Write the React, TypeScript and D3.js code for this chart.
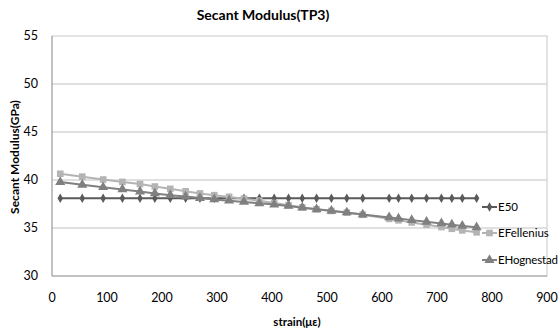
import React from "react";
import * as d3 from "d3";

const strain = [15, 55, 93, 128, 160, 187, 215, 243, 269, 295, 322, 349, 377, 404, 430, 455, 481, 508, 536, 565, 613, 630, 654, 681, 708, 727, 746, 772];
const e50 = [38.1, 38.1, 38.1, 38.1, 38.1, 38.1, 38.1, 38.1, 38.1, 38.1, 38.1, 38.1, 38.1, 38.1, 38.1, 38.1, 38.1, 38.1, 38.1, 38.1, 38.1, 38.1, 38.1, 38.1, 38.1, 38.1, 38.1, 38.1];
const eFellenius = [40.65, 40.35, 40.05, 39.8, 39.58, 39.32, 39.08, 38.82, 38.6, 38.42, 38.24, 38.05, 37.85, 37.6, 37.38, 37.15, 36.95, 36.78, 36.6, 36.38, 35.95, 35.8, 35.58, 35.35, 35.1, 34.92, 34.75, 34.55];
const eHognestad = [39.78, 39.5, 39.25, 39.02, 38.8, 38.6, 38.42, 38.27, 38.12, 37.98, 37.85, 37.72, 37.58, 37.45, 37.3, 37.12, 36.95, 36.8, 36.62, 36.4, 36.1, 35.98, 35.82, 35.65, 35.48, 35.35, 35.22, 35.07];
const xTicks = [0, 100, 200, 300, 400, 500, 600, 700, 800, 900];
const yTicks = [30, 35, 40, 45, 50, 55];
const seriesNames = ["E50", "EFellenius", "EHognestad"];

const W = 559, H = 334;
const L = 52, R = 547, T = 36, B = 276;
const font = "Lato, 'Open Sans', sans-serif";

const colors = ["#5a5a5a", "#b4b4b4", "#808080"];
const shapes = [d3.symbolDiamond, d3.symbolSquare, d3.symbolTriangle];
const sizes = [26, 44, 44];

export default function App() {
  const x = d3.scaleLinear().domain([0, 900]).range([L, R]);
  const y = d3.scaleLinear().domain([30, 55]).range([B, T]);
  const data = [e50, eFellenius, eHognestad];
  const line = d3.line<number>().x((_, i) => x(strain[i])).y((d) => y(d));
  const legendY = [207, 233, 260];
  return (
    <svg width={W} height={H} style={{ position: "absolute", left: 0, top: 0, background: "#fff" }} fontFamily={font}>
      <rect x={0} y={0} width={W} height={H} fill="#fff" />
      <text x={263} y={20} textAnchor="middle" fontWeight="bold" fontSize={14} fill="#000">Secant Modulus(TP3)</text>
      {yTicks.slice(1, -1).map((t) => (
        <line key={t} x1={L} x2={R} y1={y(t)} y2={y(t)} stroke="#c0c0c0" strokeWidth={1} />
      ))}
      <rect x={L} y={T} width={R - L} height={B - T} fill="none" stroke="#c8c8c8" strokeWidth={1} />
      <line x1={L} x2={L} y1={T} y2={B} stroke="#a0a0a0" />
      <line x1={L} x2={R} y1={B} y2={B} stroke="#a0a0a0" />
      {yTicks.map((t) => (
        <text key={t} x={38} y={y(t) + 4} textAnchor="end" fontSize={12.5} fill="#000">{t}</text>
      ))}
      {xTicks.map((t) => (
        <text key={t} x={x(t)} y={302} textAnchor="middle" fontSize={12.5} fill="#000">{t}</text>
      ))}
      <text x={297} y={326} textAnchor="middle" fontWeight="bold" fontSize={11.5} fill="#000">strain(με)</text>
      <text transform={`translate(19,157) rotate(-90)`} textAnchor="middle" fontWeight="bold" fontSize={12} fill="#000">Secant Modulus(GPa)</text>
      {data.map((vals, si) => (
        <g key={si}>
          <path d={line(vals) || ""} fill="none" stroke={colors[si]} strokeWidth={2} />
          {vals.map((v, i) => (
            <path key={i} transform={`translate(${x(strain[i])},${y(v)})`} d={d3.symbol(shapes[si], sizes[si])() || ""} fill={colors[si]} />
          ))}
        </g>
      ))}
      {seriesNames.map((n, si) => (
        <g key={n}>
          <line x1={482} x2={497} y1={legendY[si]} y2={legendY[si]} stroke={colors[si]} strokeWidth={2} />
          <path transform={`translate(489.5,${legendY[si]})`} d={d3.symbol(shapes[si], sizes[si])() || ""} fill={colors[si]} />
          <text x={498} y={legendY[si] + 4} fontSize={11.5} textLength={si === 2 ? 60 : undefined} fill="#000">{n}</text>
        </g>
      ))}
    </svg>
  );
}
